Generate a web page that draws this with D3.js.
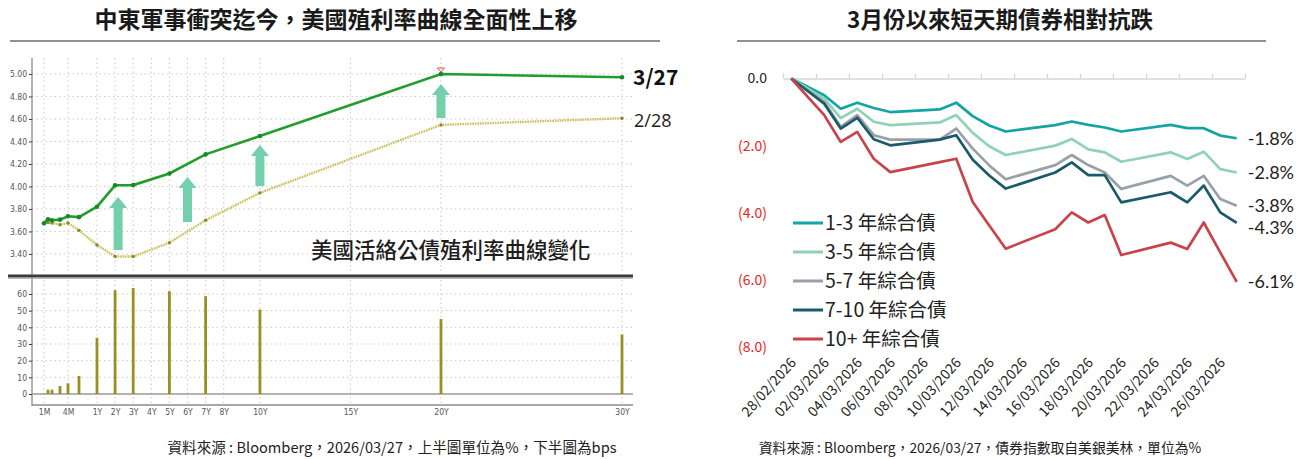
<!DOCTYPE html>
<html><head><meta charset="utf-8">
<script src="https://cdn.jsdelivr.net/npm/d3@7"></script>
<style>
html,body{margin:0;padding:0;background:#fff;}
svg{display:block;}
</style></head>
<body>
<svg id="c" width="1303" height="459"></svg>
<script>
// ---------- Left chart data ----------
const tenorLabels = ["1M","6W","2M","3M","4M","6M","1Y","2Y","3Y","5Y","7Y","10Y","20Y","30Y"];
const tenorMonths = [1, 1.5, 2, 3, 4, 6, 12, 24, 36, 60, 84, 120, 240, 360];
const yield0327 = [3.673, 3.708, 3.700, 3.705, 3.735, 3.727, 3.820, 4.010, 4.012, 4.115, 4.285, 4.448, 5.000, 4.970];
const yield0228 = [3.670, 3.680, 3.675, 3.660, 3.675, 3.610, 3.480, 3.377, 3.377, 3.500, 3.700, 3.943, 4.547, 4.606];
const changeBps = [0, 2.6, 2.6, 4.8, 6.4, 10.8, 33.7, 62.3, 63.6, 61.7, 58.7, 50.7, 45.0, 35.7];
const xTickLabels = ["1M","4M","1Y","2Y","3Y","4Y","5Y","6Y","7Y","8Y","10Y","15Y","20Y","30Y"];
const xTickMonths = [1, 4, 12, 24, 36, 48, 60, 72, 84, 96, 120, 180, 240, 360];
const topTicks = [3.40, 3.60, 3.80, 4.00, 4.20, 4.40, 4.60, 4.80, 5.00];
const bottomTicks = [0, 10, 20, 30, 40, 50, 60];
// up-arrow annotations: tenor (months), from yield, to yield
const arrowMonths = [26, 72, 120, 240];
const arrowFrom = [3.436, 3.684, 4.004, 4.609];
const arrowTo = [3.907, 4.084, 4.369, 4.911];

// ---------- Right chart data ----------
const dates = ["28/02/2026","02/03/2026","03/03/2026","04/03/2026","05/03/2026","06/03/2026","09/03/2026","10/03/2026","11/03/2026","12/03/2026","13/03/2026","16/03/2026","17/03/2026","18/03/2026","19/03/2026","20/03/2026","23/03/2026","24/03/2026","25/03/2026","26/03/2026","27/03/2026"];
const s1_3 = [0, -0.50, -0.90, -0.72, -0.88, -1.00, -0.92, -0.72, -1.12, -1.40, -1.58, -1.39, -1.28, -1.38, -1.46, -1.58, -1.38, -1.48, -1.48, -1.70, -1.78];
const s3_5 = [0, -0.60, -1.18, -0.90, -1.29, -1.39, -1.31, -1.09, -1.62, -2.02, -2.28, -2.00, -1.80, -2.11, -2.20, -2.48, -2.20, -2.40, -2.18, -2.70, -2.80];
const s5_7 = [0, -0.70, -1.44, -1.09, -1.69, -1.82, -1.82, -1.49, -2.09, -2.59, -3.00, -2.58, -2.28, -2.58, -2.80, -3.29, -2.90, -3.19, -2.90, -3.59, -3.79];
const s7_10 = [0, -0.75, -1.49, -1.17, -1.81, -1.99, -1.82, -1.69, -2.42, -2.89, -3.28, -2.80, -2.50, -2.88, -2.88, -3.69, -3.39, -3.69, -3.19, -3.99, -4.30];
const s10p = [0, -1.09, -1.89, -1.59, -2.39, -2.79, -2.49, -2.39, -3.68, -4.38, -5.07, -4.49, -3.99, -4.29, -4.07, -5.26, -4.89, -5.08, -4.29, -5.18, -6.06];
const seriesNames = ["1-3 年綜合債","3-5 年綜合債","5-7 年綜合債","7-10 年綜合債","10+ 年綜合債"];
const seriesColors = ["#14a4a4","#8fd2b6","#98a1a8","#1a5a6a","#c9434b"];
const endLabels = ["-1.8%","-2.8%","-3.8%","-4.3%","-6.1%"];
const rightTicks = [0, -2, -4, -6, -8];

const svg = d3.select("#c");
const CJK = "'Noto Sans CJK TC','Noto Sans',sans-serif";

// ---------- Titles ----------
svg.append("text").attr("x", 336).attr("y", 28).attr("text-anchor","middle")
  .attr("font-family", CJK).attr("font-size", 23).attr("font-weight", 700).attr("fill","#1a1a1a")
  .text("中東軍事衝突迄今，美國殖利率曲線全面性上移");
svg.append("line").attr("x1",10).attr("x2",660).attr("y1",41).attr("y2",41).attr("stroke","#222").attr("stroke-width",1.2);
svg.append("text").attr("x", 1000).attr("y", 28).attr("text-anchor","middle")
  .attr("font-family", CJK).attr("font-size", 22.5).attr("font-weight", 700).attr("fill","#1a1a1a")
  .text("3月份以來短天期債券相對抗跌");
svg.append("line").attr("x1",737).attr("x2",1266).attr("y1",41).attr("y2",41).attr("stroke","#222").attr("stroke-width",1.2);

// ---------- Left chart ----------
const L = svg.append("g");
const xL = d3.scaleLinear().domain([1, 4, 6, 12, 360]).range([44, 68, 79, 97, 622]);
const yTop = d3.scaleLinear().domain([3.204, 5.124]).range([276, 60]);
const yBot = d3.scaleLinear().domain([-6.6, 68.4]).range([405, 280]);
const leftX0 = 32, leftX1 = 633;
const gridStyle = s => s.attr("stroke","#c9c9c9").attr("stroke-width",1).attr("stroke-dasharray","1.5,3");

// grids top
L.selectAll(".hgT").data(topTicks).join("line")
  .attr("x1", leftX0).attr("x2", leftX1).attr("y1", d=>yTop(d)).attr("y2", d=>yTop(d)).call(gridStyle);
L.selectAll(".vgT").data(xTickMonths).join("line")
  .attr("x1", d=>xL(d)).attr("x2", d=>xL(d)).attr("y1", 58).attr("y2", 274).call(gridStyle);
// grids bottom
L.selectAll(".hgB").data(bottomTicks.filter(d=>d>0)).join("line")
  .attr("x1", leftX0).attr("x2", leftX1).attr("y1", d=>yBot(d)).attr("y2", d=>yBot(d)).call(gridStyle);
L.selectAll(".vgB").data(xTickMonths).join("line")
  .attr("x1", d=>xL(d)).attr("x2", d=>xL(d)).attr("y1", 280).attr("y2", 404).call(gridStyle);

// y axes
const axT = L.append("g").attr("transform",`translate(${leftX0},0)`)
  .call(d3.axisLeft(yTop).tickValues(topTicks).tickFormat(d3.format(".2f")).tickSize(3).tickPadding(2));
const axB = L.append("g").attr("transform",`translate(${leftX0},0)`)
  .call(d3.axisLeft(yBot).tickValues(bottomTicks).tickFormat(d3.format("d")).tickSize(3).tickPadding(2));
[axT, axB].forEach(a => {
  a.select(".domain").remove();
  a.selectAll("line").attr("stroke","#333");
  a.selectAll("text").attr("font-family","'DejaVu Sans Condensed','DejaVu Sans',sans-serif").attr("font-size",8.5).attr("fill","#555");
});
L.append("line").attr("x1",leftX0).attr("x2",leftX0).attr("y1",58).attr("y2",406).attr("stroke","#666").attr("stroke-width",1);

// zero line and bottom axis
L.append("line").attr("x1",leftX0).attr("x2",leftX1).attr("y1",yBot(0)).attr("y2",yBot(0)).attr("stroke","#9a9a9a").attr("stroke-width",1.3);
const axX = L.append("g").attr("transform","translate(0,405)")
  .call(d3.axisBottom(xL).tickValues(xTickMonths).tickFormat((d,i)=>xTickLabels[i]).tickSize(0).tickPadding(4));
axX.select(".domain").attr("stroke","#8a8a8a").attr("stroke-width",1.5).attr("d",`M${leftX0},0H${leftX1}`);
axX.selectAll("text").attr("font-family","'DejaVu Sans Condensed','DejaVu Sans',sans-serif").attr("font-size",8.5).attr("fill","#555");

// separator
L.append("line").attr("x1",8).attr("x2",leftX1).attr("y1",276).attr("y2",276).attr("stroke","#3a3a3a").attr("stroke-width",3);
L.append("line").attr("x1",8).attr("x2",leftX1).attr("y1",278.5).attr("y2",278.5).attr("stroke","#bbb").attr("stroke-width",1);

// bars
L.selectAll(".bar").data(changeBps).join("rect")
  .attr("x", (d,i)=>xL(tenorMonths[i]) - 1.4).attr("width", 2.8)
  .attr("y", d=>yBot(Math.max(0,d))).attr("height", d=>Math.abs(yBot(0)-yBot(d)))
  .attr("fill","#9a9020");

// arrows
const arrowColor = "#74cfad";
arrowMonths.forEach((m,i)=>{
  const cx = xL(m), yb = yTop(arrowFrom[i]), yt = yTop(arrowTo[i]);
  const sw = 4.5, hw = 9, hh = 11;
  L.append("path").attr("d",
    `M${cx-sw},${yb}L${cx-sw},${yt+hh}L${cx-hw},${yt+hh}L${cx},${yt}L${cx+hw},${yt+hh}L${cx+sw},${yt+hh}L${cx+sw},${yb}Z`)
    .attr("fill", arrowColor);
});

// lines
const lineL = d3.line().x((d,i)=>xL(tenorMonths[i])).y(d=>yTop(d));
L.append("path").datum(yield0228).attr("d", lineL).attr("fill","none")
  .attr("stroke","#c9c05a").attr("stroke-width",2.4).attr("stroke-dasharray","1.6,0.9");
L.selectAll(".p28").data(yield0228).join("circle")
  .attr("cx",(d,i)=>xL(tenorMonths[i])).attr("cy",d=>yTop(d)).attr("r",1.7).attr("fill","#8d8a2a");
L.append("path").datum(yield0327).attr("d", lineL).attr("fill","none")
  .attr("stroke","#1f9e2b").attr("stroke-width",2.6);
L.selectAll(".p27").data(yield0327).join("circle")
  .attr("cx",(d,i)=>xL(tenorMonths[i])).attr("cy",d=>yTop(d)).attr("r",2.3).attr("fill","#178a22");
// small red marker at 20Y
{
  const mx = xL(240), my = yTop(yield0327[12]) - 2;
  L.append("path").attr("d",`M${mx-3.5},${my-4}H${mx+3.5}L${mx},${my}Z`).attr("fill","none").attr("stroke","#e05050").attr("stroke-width",1);
}

// labels
L.append("text").attr("x",633).attr("y",yTop(yield0327[13])+8).attr("font-family",CJK)
  .attr("font-size",21).attr("font-weight",700).attr("fill","#111").text("3/27");
L.append("text").attr("x",634).attr("y",yTop(yield0228[13])+9).attr("font-family","'Open Sans','Noto Sans',sans-serif")
  .attr("font-size",18).attr("fill","#222").text("2/28");
L.append("text").attr("x",311).attr("y",258).attr("font-family",CJK)
  .attr("font-size",21.5).attr("font-weight",500).attr("fill","#1e1e1e").text("美國活絡公債殖利率曲線變化");

// footer left
svg.append("text").attr("x",392).attr("y",453).attr("text-anchor","middle").attr("font-family",CJK)
  .attr("font-size",14.6).attr("fill","#222").text("資料來源 : Bloomberg，2026/03/27，上半圖單位為%，下半圖為bps");

// ---------- Right chart ----------
const R = svg.append("g");
const parse = d3.timeParse("%d/%m/%Y");
const d0 = parse(dates[0]);
const dayIdx = dates.map(s => d3.timeDay.count(d0, parse(s)));
const xR = d3.scaleLinear().domain([-0.5, 27.5]).range([783, 1245]);
const yR = d3.scaleLinear().domain([0, -8]).range([78.5, 347]);

// top axis with boundary ticks
const tickB = d3.range(-0.5, 28, 2);
const axR = R.append("g").attr("transform",`translate(0,${yR(0)})`)
  .call(d3.axisTop(xR).tickValues(tickB).tickFormat("").tickSize(5).tickSizeOuter(0));
axR.select(".domain").attr("stroke","#d6d6d6").attr("stroke-width",1.3);
axR.selectAll("line").attr("stroke","#d6d6d6").attr("stroke-width",1.3);

// y labels
R.selectAll(".yl").data(rightTicks).join("text")
  .attr("x",767).attr("y",d=>yR(d)).attr("dy","0.35em").attr("text-anchor","end")
  .attr("font-family",CJK).attr("font-size",14).attr("fill",d=>d===0?"#222":"#ee1c1c")
  .text(d=> d===0 ? "0.0" : "(" + Math.abs(d).toFixed(1) + ")");

// x labels every 2 days
const labelDays = d3.range(0, 27, 2);
const fmt = d3.timeFormat("%d/%m/%Y");
R.selectAll(".xl").data(labelDays).join("text")
  .attr("transform", d=>`translate(${xR(d)+2},${360}) rotate(-48)`)
  .attr("text-anchor","end").attr("dy","0.35em")
  .attr("font-family",CJK).attr("font-size",14).attr("fill","#222")
  .text(d=>fmt(d3.timeDay.offset(d0, d)));

// lines
const allSeries = [s1_3, s3_5, s5_7, s7_10, s10p];
const lineR = d3.line().x((d,i)=>xR(dayIdx[i])).y(d=>yR(d));
allSeries.forEach((s,k)=>{
  R.append("path").datum(s).attr("d", lineR).attr("fill","none")
    .attr("stroke", seriesColors[k]).attr("stroke-width",2.7).attr("stroke-linejoin","round");
});

// end labels with simple collision avoidance
const lastX = xR(dayIdx[dayIdx.length-1]);
let ly = allSeries.map(s=>yR(s[s.length-1]));
for (let i=1;i<ly.length;i++){ if (ly[i]-ly[i-1] < 22) ly[i] = ly[i-1] + 22; }
R.selectAll(".el").data(endLabels).join("text")
  .attr("x", lastX + 11).attr("y",(d,i)=>ly[i]).attr("dy","0.35em")
  .attr("font-family","Lato,'Open Sans',sans-serif").attr("font-size",18).attr("fill","#222").text(d=>d);

// legend
const lg = R.append("g");
seriesNames.forEach((n,i)=>{
  const yy = 223 + i*29;
  lg.append("line").attr("x1",793).attr("x2",823).attr("y1",yy).attr("y2",yy)
    .attr("stroke",seriesColors[i]).attr("stroke-width",3);
  lg.append("text").attr("x",825).attr("y",yy).attr("dy","0.36em")
    .attr("font-family",CJK).attr("font-size",19.5).attr("fill","#222").text(n);
});

// footer right
svg.append("text").attr("x",980).attr("y",453).attr("text-anchor","middle").attr("font-family",CJK)
  .attr("font-size",13.8).attr("fill","#222").text("資料來源 : Bloomberg，2026/03/27，債券指數取自美銀美林，單位為%");
</script>
</body></html>
